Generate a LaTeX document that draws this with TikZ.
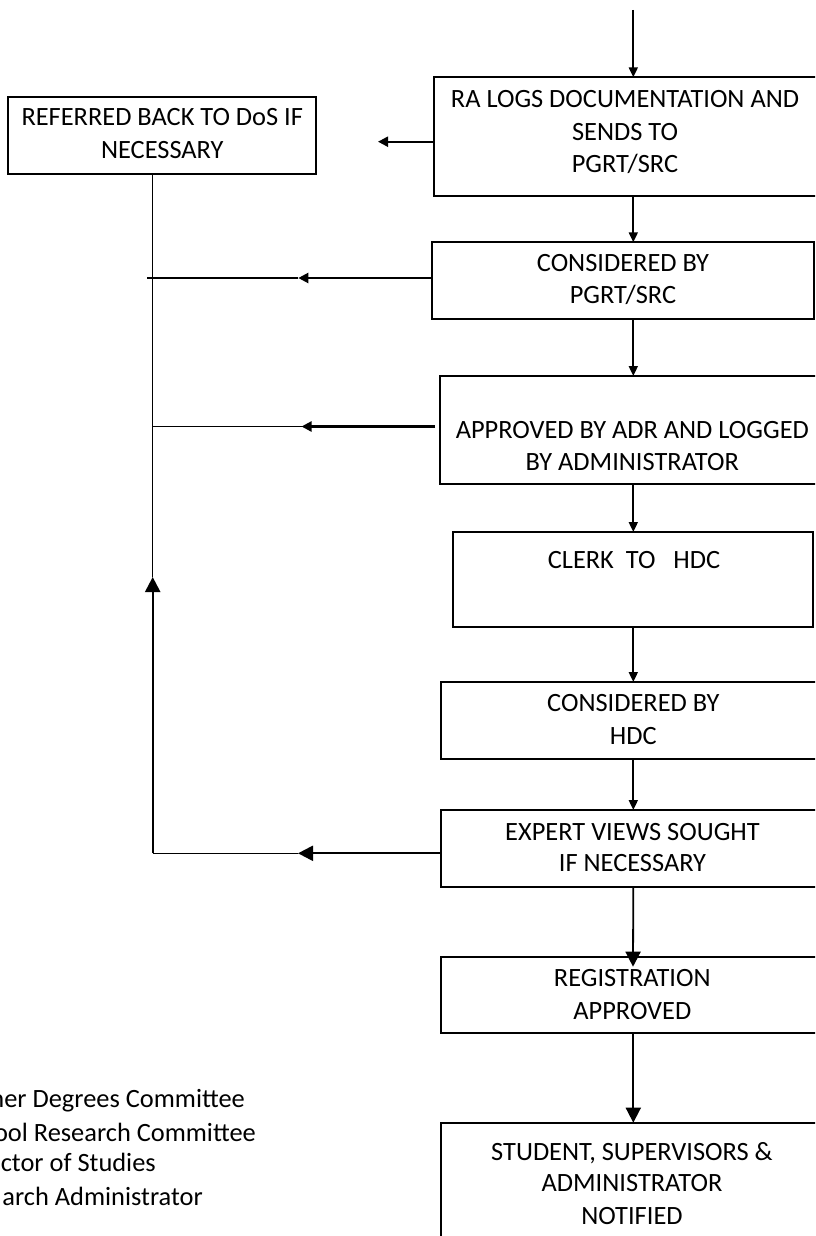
\documentclass[tikz,border=0pt]{standalone}
\usepackage{fontspec}
\setmainfont{Carlito}
\usetikzlibrary{arrows.meta}
\tikzset{
  stepbox/.style={draw, line width=1.8pt, inner sep=0pt, outer sep=0pt},
  txt/.style={anchor=base, inner sep=0pt, font=\fontsize{26.4}{32}\selectfont},
  legend/.style={anchor=base east, inner sep=0pt, font=\fontsize{26.4}{32}\selectfont},
  flow/.style={line width=1.8pt, -{Triangle[length=10pt,width=9pt]}},
  bigflow/.style={line width=1.8pt, -{Triangle[length=15pt,width=15pt]}},
  backflow/.style={line width=2.2pt, -{Triangle[length=10pt,width=10pt]}},
  bigback/.style={line width=2.2pt, -{Triangle[length=15pt,width=15pt]}},
  thinline/.style={line width=1.3pt},
}
\begin{document}
\begin{tikzpicture}[x=1pt,y=-1pt]
\useasboundingbox (0,0) rectangle (815,1236);
\clip (0,0) rectangle (815,1236);

% boxes
\node[stepbox, minimum width=392pt, minimum height=118.7pt] (ra) at (630.3,136.65) {};
\node[stepbox, minimum width=308pt, minimum height=77.3pt] (ref) at (162,135.35) {};
\node[stepbox, minimum width=382.3pt, minimum height=76.7pt] (cpgrt) at (622.85,280.65) {};
\node[stepbox, minimum width=384pt, minimum height=108pt] (appr) at (632,430) {};
\node[stepbox, minimum width=360pt, minimum height=95pt] (clerk) at (633,579.5) {};
\node[stepbox, minimum width=385pt, minimum height=77pt] (chdc) at (633.3,720.5) {};
\node[stepbox, minimum width=385pt, minimum height=76.7pt] (expert) at (633.3,848.35) {};
\node[stepbox, minimum width=385pt, minimum height=76.6pt] (reg) at (633.3,995) {};
\node[stepbox, minimum width=385pt, minimum height=139.3pt] (stud) at (633.3,1192.35) {};

% texts
\node[txt] (ra1) at (625,107.8) {RA LOGS DOCUMENTATION AND};
\node[txt] (ra2) at (625,140.0) {SENDS TO};
\node[txt] (ra3) at (625,172.0) {PGRT/SRC};
\node[txt] (ref1) at (162.3,125.5) {REFERRED BACK TO DoS IF};
\node[txt] (ref2) at (162.3,158.5) {NECESSARY};
\node[txt] (cp1) at (623,271.8) {CONSIDERED BY};
\node[txt] (cp2) at (623,303.5) {PGRT/SRC};
\node[txt] (ap1) at (632.3,438.5) {APPROVED BY ADR AND LOGGED};
\node[txt] (ap2) at (632.3,470.2) {BY ADMINISTRATOR};
\node[txt] (cl1) at (634,568.5) {CLERK\ \ TO\ \ \ HDC};
\node[txt] (ch1) at (633.3,711.5) {CONSIDERED BY};
\node[txt] (ch2) at (633.3,744.5) {HDC};
\node[txt] (ex1) at (632.5,840.2) {EXPERT VIEWS SOUGHT};
\node[txt] (ex2) at (632.5,871.8) {IF NECESSARY};
\node[txt] (rg1) at (632.3,986.8) {REGISTRATION};
\node[txt] (rg2) at (632.3,1019.2) {APPROVED};
\node[txt] (st1) at (632,1160.2) {STUDENT, SUPERVISORS \&};
\node[txt] (st2) at (632,1191.8) {ADMINISTRATOR};
\node[txt] (st3) at (632,1224.0) {NOTIFIED};

% legend (cut at the left edge, as in the reference)
\node[legend] (lg1) at (245,1107.8) {her Degrees Committee};
\node[legend] (lg2) at (256,1141.2) {ool Research Committee};
\node[legend] (lg3) at (156,1171.8) {ctor of Studies};
\node[legend] (lg4) at (203,1205.2) {arch Administrator};

% helper coordinates
\coordinate (axis) at (633.3,0);
\coordinate (start) at (633.3,10);
\coordinate (vx) at (152.7,0);
\coordinate (ratip) at (378,141.7);
\coordinate (cptip) at (298.3,278);
\coordinate (cpend) at (146.7,278);
\coordinate (aptip) at (301.5,426.5);
\coordinate (uptip) at (152.7,577);
\coordinate (extip) at (298,853.3);
\coordinate (regtip) at (633,966.7);

% main flow
\draw[flow] (start) -- (axis |- ra.north);
\draw[flow] (axis |- ra.south) -- (axis |- cpgrt.north);
\draw[flow] (axis |- cpgrt.south) -- (axis |- appr.north);
\draw[flow] (axis |- appr.south) -- (axis |- clerk.north);
\draw[flow] (axis |- clerk.south) -- (axis |- chdc.north);
\draw[flow] (axis |- chdc.south) -- (axis |- expert.north);
\draw[bigflow] (axis |- expert.south) -- (regtip);
\draw[bigflow] (axis |- reg.south) -- (axis |- stud.north);

% feedback lines
\draw[backflow] (ra.west |- ratip) -- (ratip);
\draw[backflow] (cpgrt.west |- cptip) -- (cptip);
\draw[line width=2.2pt] (cptip) -- (cpend);
\draw[backflow] ([xshift=-5pt]appr.west |- aptip) -- (aptip);
\draw[thinline] (aptip) -- (vx |- aptip);
\draw[bigback] (expert.west |- extip) -- (extip);
\draw[thinline] (extip) -- (vx |- extip);
\draw[bigback] (vx |- extip) -- (uptip);
\draw[thinline] (vx |- ref.south) -- (uptip);
\end{tikzpicture}
\end{document}
